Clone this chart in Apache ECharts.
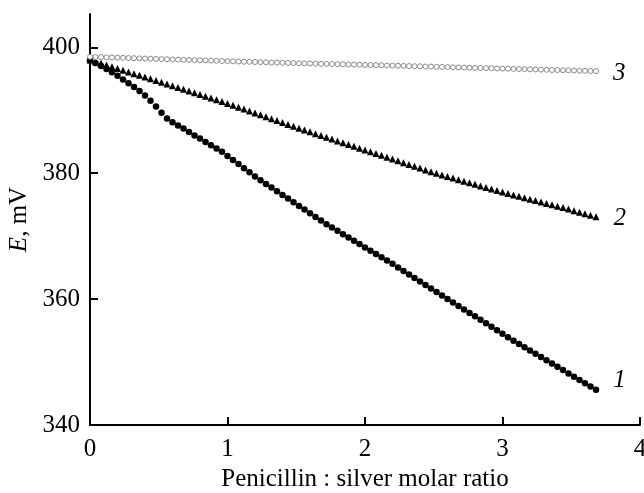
<!DOCTYPE html>
<html>
<head>
<meta charset="utf-8">
<script src="https://cdn.jsdelivr.net/npm/echarts@6/dist/echarts.min.js"></script>
<style>
  html, body { margin: 0; padding: 0; background: #fff; }
  #chart { width: 644px; height: 493px; }
</style>
</head>
<body>
<div id="chart"></div>
<script>
// molar ratio penicillin : silver (shared by all three curves)
var ratio = [0, 0.04, 0.08, 0.12, 0.16, 0.2, 0.24, 0.28, 0.32, 0.36, 0.4, 0.44, 0.48, 0.52, 0.56, 0.6,
  0.64, 0.68, 0.72, 0.76, 0.8, 0.84, 0.88, 0.92, 0.96, 1.0, 1.04, 1.08, 1.12, 1.16, 1.2, 1.24,
  1.28, 1.32, 1.36, 1.4, 1.44, 1.48, 1.52, 1.56, 1.6, 1.64, 1.68, 1.72, 1.76, 1.8, 1.84, 1.88,
  1.92, 1.96, 2.0, 2.04, 2.08, 2.12, 2.16, 2.2, 2.24, 2.28, 2.32, 2.36, 2.4, 2.44, 2.48, 2.52,
  2.56, 2.6, 2.64, 2.68, 2.72, 2.76, 2.8, 2.84, 2.88, 2.92, 2.96, 3.0, 3.04, 3.08, 3.12, 3.16,
  3.2, 3.24, 3.28, 3.32, 3.36, 3.4, 3.44, 3.48, 3.52, 3.56, 3.6, 3.64, 3.68];

// E, mV
var curve1 = [397.9, 397.5, 397.05, 396.55, 396.05, 395.5, 394.9, 394.3, 393.7, 393.05, 392.35, 391.5,
  390.6, 389.6, 388.7, 388.1, 387.6, 387.1, 386.55, 386.0, 385.5, 384.95, 384.45, 383.95, 383.4,
  382.75, 382.1, 381.45, 380.8, 380.15, 379.5, 378.9, 378.3, 377.72, 377.14, 376.55, 375.97,
  375.39, 374.81, 374.23, 373.65, 373.06, 372.48, 371.9, 371.38, 370.85, 370.32, 369.8, 369.28,
  368.75, 368.22, 367.7, 367.18, 366.65, 366.12, 365.6, 365.04, 364.48, 363.92, 363.36, 362.8,
  362.24, 361.68, 361.12, 360.57, 360.02, 359.46, 358.91, 358.36, 357.81, 357.26, 356.71, 356.16,
  355.61, 355.06, 354.5, 353.95, 353.4, 352.88, 352.36, 351.84, 351.32, 350.8, 350.28, 349.76,
  349.24, 348.72, 348.2, 347.68, 347.16, 346.64, 346.12, 345.6];

var curve2 = [398.0, 397.73, 397.46, 397.18, 396.91, 396.64, 396.37, 396.1, 395.82, 395.55, 395.28,
  395.01, 394.74, 394.46, 394.18, 393.9, 393.62, 393.34, 393.06, 392.78, 392.5, 392.22, 391.94,
  391.66, 391.38, 391.1, 390.8, 390.49, 390.19, 389.88, 389.58, 389.28, 388.97, 388.67, 388.36,
  388.06, 387.76, 387.45, 387.16, 386.87, 386.58, 386.29, 386.0, 385.72, 385.43, 385.14, 384.85,
  384.56, 384.28, 383.99, 383.7, 383.41, 383.12, 382.84, 382.55, 382.26, 381.97, 381.68, 381.4,
  381.11, 380.82, 380.53, 380.24, 379.98, 379.73, 379.48, 379.23, 378.98, 378.74, 378.49, 378.24,
  377.99, 377.74, 377.5, 377.25, 377.0, 376.78, 376.55, 376.33, 376.1, 375.88, 375.66, 375.43,
  375.21, 374.98, 374.76, 374.54, 374.31, 374.06, 373.82, 373.58, 373.33, 373.09];

var curve3 = [398.5, 398.47, 398.45, 398.42, 398.39, 398.36, 398.34, 398.31, 398.28, 398.25, 398.22,
  398.2, 398.17, 398.14, 398.11, 398.08, 398.06, 398.03, 398.0, 397.97, 397.94, 397.92, 397.89,
  397.86, 397.84, 397.81, 397.78, 397.75, 397.72, 397.7, 397.67, 397.64, 397.62, 397.59, 397.57,
  397.55, 397.53, 397.5, 397.48, 397.46, 397.44, 397.41, 397.39, 397.37, 397.35, 397.33, 397.3,
  397.28, 397.26, 397.24, 397.21, 397.19, 397.17, 397.15, 397.12, 397.1, 397.08, 397.06, 397.03,
  397.01, 396.99, 396.96, 396.94, 396.91, 396.89, 396.87, 396.84, 396.82, 396.8, 396.77, 396.75,
  396.72, 396.7, 396.68, 396.65, 396.63, 396.61, 396.58, 396.56, 396.53, 396.51, 396.49, 396.46,
  396.44, 396.41, 396.39, 396.37, 396.34, 396.32, 396.29, 396.27, 396.24, 396.22];

var curveNames = ['1', '2', '3'];
var xTicks = [0, 1, 2, 3, 4];
var yTicks = [340, 360, 380, 400];

var font = '"Liberation Serif", "Times New Roman", serif';

// pair x with y, put the curve number next to the last point
function makeData(ys, name, offset) {
  var out = [];
  for (let i = 0; i < ys.length; i++) {
    let item = { value: [ratio[i], ys[i]] };
    if (i == ys.length - 1) {
      item.label = {
        show: true,
        position: 'right',
        distance: 14,
        offset: offset,
        formatter: name,
        fontFamily: font,
        fontStyle: 'italic',
        fontSize: 25,
        color: '#000'
      };
    }
    out.push(item);
  }
  return out;
}

var chart = echarts.init(document.getElementById('chart'), null, { renderer: 'canvas' });

var option = {
  animation: false,
  backgroundColor: '#fff',
  grid: { left: 90, right: 4, top: 14, bottom: 68, outerBoundsMode: 'none', containLabel: false },
  xAxis: {
    type: 'value',
    min: 0,
    max: 4,
    interval: 1,
    name: 'Penicillin : silver molar ratio',
    nameLocation: 'middle',
    nameGap: 42,
    nameTextStyle: { fontFamily: font, fontSize: 25, color: '#000' },
    axisLine: { lineStyle: { color: '#000', width: 2 } },
    axisTick: { inside: true, length: 8, lineStyle: { color: '#000', width: 2 }, customValues: xTicks },
    axisLabel: { fontFamily: font, fontSize: 25, color: '#000', margin: 12, customValues: xTicks },
    splitLine: { show: false }
  },
  yAxis: {
    type: 'value',
    min: 340,
    max: 405.3,
    interval: 20,
    name: '{i|E}, mV',
    nameLocation: 'middle',
    nameRotate: 90,
    nameGap: 54,
    nameTextStyle: {
      fontFamily: font, fontSize: 25, color: '#000',
      rich: { i: { fontFamily: font, fontSize: 25, fontStyle: 'italic', color: '#000' } }
    },
    axisLine: { show: true, lineStyle: { color: '#000', width: 2 } },
    axisTick: { show: true, inside: true, length: 8, lineStyle: { color: '#000', width: 2 }, customValues: yTicks },
    axisLabel: { fontFamily: font, fontSize: 25, color: '#000', margin: 10, customValues: yTicks },
    splitLine: { show: false }
  },
  series: [
    {
      type: 'scatter',
      symbol: 'circle',
      symbolSize: 6.5,
      itemStyle: { color: '#000', opacity: 1 },
      data: makeData(curve1, curveNames[0], [0, -9])
    },
    {
      type: 'scatter',
      symbol: 'triangle',
      symbolSize: 7,
      itemStyle: { color: '#000', opacity: 1 },
      data: makeData(curve2, curveNames[1], [0, 2])
    },
    {
      type: 'scatter',
      symbol: 'circle',
      symbolSize: 5,
      itemStyle: { color: '#fff', borderColor: '#8a8a8a', borderWidth: 1, opacity: 1 },
      data: makeData(curve3, curveNames[2], [0, 2])
    }
  ]
};

chart.setOption(option);
</script>
</body>
</html>
